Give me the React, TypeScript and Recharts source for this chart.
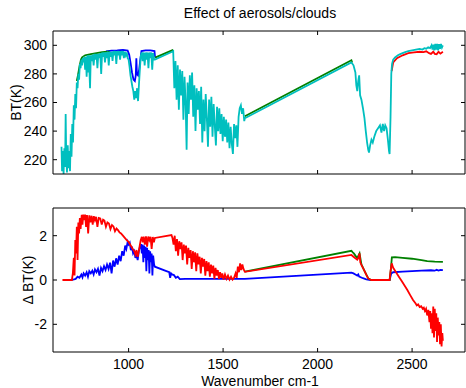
import { LineChart, Line, XAxis, YAxis } from "recharts"

const FONT = '"Liberation Sans", Arial, Helvetica, sans-serif'

const X_DOMAIN: [number, number] = [600, 2780]
const X_TICKS = [1000, 1500, 2000, 2500]
const BT_TICKS = [220, 240, 260, 280, 300]
const DBT_TICKS = [-2, 0, 2]

type Pt = [number, number | null]

// top panel: brightness temperature (K)
const btBlue: Pt[] = [
  [880, 295.8], [910, 296.3], [940, 296.5], [970, 296.8], [995, 296.3], [1003, 293.5], [1010, 288],
  [1018, 281], [1026, 276], [1033, 275], [1038, 279], [1041, 291], [1044, 280], [1050, 279],
  [1056, 283], [1062, 290], [1068, 296], [1090, 296.4], [1115, 296.4], [1137, 296], [1140, 291.5],
]

const btGreen: Pt[] = [
  [726, 275], [732, 279], [740, 285], [748, 290], [754, 291.6], [770, 293], [800, 293.8],
  [830, 294.5], [860, 295.2], [890, 295.6], [900, 295.6], [905, null],
  [1140, 291.4], [1236, 296.8], [1240, null],
  [1615, 250.4], [2179, 289.5], [2183, 288],
]

const btRed: Pt[] = [
  [2392, 282], [2400, 288], [2420, 291], [2450, 293], [2480, 294.5], [2510, 295], [2540, 295.5],
  [2560, 295.2], [2575, 295.8], [2590, 294.5], [2600, 294], [2612, 295.5], [2620, 294],
  [2630, 293.8], [2640, 295.5], [2650, 294.2], [2663, 295.5],
]

const btCyan: Pt[] = [
  [645, 229], [648, 212], [652, 226], [656, 210], [660, 228], [664, 215], [667, 252], [670, 222],
  [674, 211], [678, 230], [682, 214], [686, 226], [690, 212], [694, 238], [698, 222], [702, 245],
  [706, 232], [710, 258], [714, 248], [718, 266], [722, 256], [726, 274], [730, 270], [734, 280],
  [738, 276], [742, 287], [746, 284], [750, 290], [754, 286], [758, 291], [762, 288], [766, 292],
  [770, 283], [774, 292], [778, 278], [782, 293], [786, 281], [790, 293], [796, 270], [800, 293],
  [805, 289], [810, 293.5], [815, 286], [820, 294], [825, 290], [830, 294], [835, 284], [840, 294],
  [845, 291], [850, 294.5], [855, 280], [860, 295], [865, 292], [870, 295], [875, 288], [880, 295],
  [885, 291], [890, 295.5], [895, 286], [900, 295.5], [905, 292], [910, 295.5], [915, 289],
  [920, 296], [925, 293], [930, 296], [935, 287], [940, 296], [945, 293], [950, 296], [955, 290],
  [960, 296], [965, 293], [970, 296], [975, 291], [980, 295.5], [985, 293], [990, 295], [995, 291],
  [1000, 290], [1005, 285], [1010, 279], [1015, 275], [1020, 271], [1025, 268], [1030, 262],
  [1035, 268], [1040, 263], [1045, 270], [1050, 261], [1055, 273], [1060, 284], [1065, 293],
  [1070, 295], [1075, 289], [1080, 295], [1085, 286], [1090, 295], [1095, 290], [1100, 295],
  [1105, 284], [1110, 295], [1115, 291], [1120, 295], [1125, 283], [1130, 294.5], [1135, 290],
  [1139, 290], [1230, 295.5], [1236, 296], [1242, 270], [1248, 289], [1254, 262], [1260, 286],
  [1266, 255], [1272, 283], [1278, 265], [1284, 282], [1290, 248], [1296, 278], [1302, 258],
  [1307, 227], [1312, 274], [1318, 252], [1324, 279], [1330, 262], [1336, 281], [1342, 250],
  [1348, 272], [1354, 240], [1360, 270], [1366, 255], [1372, 268], [1378, 245], [1384, 271],
  [1390, 232], [1396, 262], [1402, 240], [1408, 266], [1414, 249], [1420, 229], [1426, 262],
  [1432, 243], [1438, 264], [1444, 236], [1450, 259], [1456, 244], [1462, 230], [1468, 257],
  [1474, 240], [1480, 256], [1486, 238], [1492, 252], [1498, 233], [1504, 250], [1510, 236],
  [1516, 248], [1522, 232], [1528, 246], [1534, 228], [1540, 243], [1546, 231], [1552, 224],
  [1558, 245], [1564, 235], [1570, 244], [1576, 229], [1582, 250], [1588, 256], [1594, 258],
  [1600, 252], [1606, 256], [1612, 247], [1615, 249], [2179, 288], [2190, 286], [2200, 281],
  [2205, 272], [2210, 268], [2215, 275], [2220, 279], [2225, 265], [2232, 262], [2240, 256],
  [2248, 249], [2255, 240], [2262, 232], [2268, 227], [2272, 225], [2278, 230], [2285, 234],
  [2292, 232], [2300, 236], [2310, 240], [2320, 242], [2330, 244], [2338, 239], [2345, 245],
  [2352, 240], [2358, 244], [2365, 242], [2372, 234], [2378, 226], [2381, 224], [2386, 250],
  [2390, 280], [2394, 287], [2400, 290], [2410, 291.5], [2425, 293], [2440, 294], [2460, 295],
  [2480, 296], [2500, 296.5], [2520, 297], [2540, 297.5], [2555, 297], [2565, 298], [2575, 297.6],
  [2585, 298.6], [2595, 298], [2603, 300], [2608, 297], [2613, 300.5], [2618, 296.5], [2623, 301],
  [2628, 297], [2633, 301], [2638, 296.5], [2643, 300.8], [2648, 297.5], [2653, 301], [2658, 298.5],
  [2663, 300],
]

// bottom panel: delta BT (K)
const dBlue: Pt[] = [
  [700, 0], [720, 0.05], [730, 0.15], [740, 0.1], [750, 0.25], [756, 0.12], [762, 0.3], [770, 0.2],
  [778, 0.35], [785, 0.15], [792, 0.4], [800, 0.3], [808, 0.42], [815, 0.25], [822, 0.48],
  [830, 0.35], [838, 0.5], [846, 0.2], [854, 0.55], [862, 0.4], [870, 0.62], [878, 0.45],
  [886, 0.7], [894, 0.5], [902, 0.78], [910, 0.3], [918, 0.88], [926, 0.6], [934, 0.98], [942, 0.7],
  [950, 1.1], [958, 0.85], [966, 1.3], [974, 1.1], [982, 1.55], [988, 1.4], [995, 1.72], [1000, 1.6],
  [1006, 1.68], [1012, 1.35], [1018, 1.5], [1024, 1.2], [1030, 1.3], [1036, 1.0], [1042, 1.15],
  [1048, 0.9], [1054, 1.3], [1060, 1.5], [1066, 1.62], [1070, 1.2], [1074, 1.6], [1078, 0.8],
  [1082, 1.55], [1086, 1.0], [1090, 1.5], [1094, 0.4], [1098, 1.45], [1102, 0.9], [1106, 1.35],
  [1110, 0.3], [1114, 1.3], [1118, 0.8], [1122, 1.2], [1126, 0.2], [1130, 1.1], [1135, 0.7],
  [1139, 0.6], [1200, 0.4], [1215, 0.35], [1220, 0.1], [1225, 0.3], [1230, 0.25], [1240, 0.22],
  [1250, 0.1], [1260, 0.15], [1271, 0.04], [1300, 0.05], [1615, 0.05], [2179, 0.33], [2190, 0.3],
  [2200, 0.25], [2210, 0.2], [2215, 0.25], [2220, 0.15], [2240, 0.08], [2258, 0.03], [2280, 0],
  [2381, 0], [2390, 0.3], [2400, 0.35], [2450, 0.38], [2500, 0.4], [2550, 0.42], [2600, 0.44],
  [2620, 0.42], [2630, 0.46], [2640, 0.43], [2650, 0.46], [2663, 0.45],
]

const dGreen: Pt[] = [
  [1615, 0.38], [2179, 1.32], [2186, 1.25], [2192, 1.2], [2200, 1.1], [2210, 1.0], [2222, 1.2],
  [2232, 0.7], [2250, 0.38], [2268, 0.07], [2284, 0], [2381, 0], [2388, 0.5], [2393, 1.02],
  [2410, 1.03], [2450, 1.0], [2500, 0.96], [2550, 0.9], [2580, 0.85], [2620, 0.83], [2663, 0.82],
]

const dRed: Pt[] = [
  [650, 0], [700, 0], [705, 0.3], [710, 1.0], [714, 0.2], [718, 1.8], [722, 1.2], [726, 2.4],
  [730, 0.9], [734, 2.6], [738, 2.1], [742, 2.8], [746, 2.3], [752, 2.94], [756, 2.5], [760, 2.95],
  [765, 2.7], [770, 2.95], [775, 2.4], [780, 2.93], [786, 2.1], [792, 2.92], [798, 2.6], [804, 2.9],
  [810, 2.5], [816, 2.88], [822, 2.7], [828, 2.85], [835, 2.4], [842, 2.8], [850, 2.78], [858, 2.5],
  [865, 2.72], [872, 2.68], [880, 2.4], [888, 2.6], [896, 2.55], [904, 2.3], [912, 2.48],
  [920, 2.42], [928, 2.2], [936, 2.32], [944, 2.25], [952, 2.15], [960, 2.1], [970, 2.0],
  [980, 1.9], [990, 1.8], [1000, 1.72], [1008, 1.6], [1015, 1.5], [1022, 1.4], [1030, 1.3],
  [1036, 1.15], [1042, 1.35], [1048, 1.05], [1052, 1.2], [1058, 1.5], [1064, 1.8], [1070, 1.95],
  [1075, 1.7], [1080, 1.96], [1086, 1.6], [1092, 1.97], [1098, 1.5], [1104, 1.96], [1110, 1.8],
  [1116, 1.95], [1122, 1.4], [1128, 1.94], [1134, 1.7], [1139, 1.9], [1227, 2.03], [1232, 1.9],
  [1238, 1.6], [1244, 2.0], [1250, 1.3], [1256, 1.85], [1262, 1.1], [1268, 1.75], [1274, 1.4],
  [1280, 1.7], [1286, 0.9], [1292, 1.6], [1298, 1.2], [1304, 1.55], [1310, 0.7], [1316, 1.45],
  [1322, 1.0], [1328, 1.35], [1334, 0.5], [1340, 1.3], [1346, 0.8], [1352, 1.25], [1358, 0.4],
  [1364, 1.2], [1370, 0.7], [1376, 1.05], [1382, 0.3], [1388, 1.0], [1394, 0.6], [1400, 0.95],
  [1406, 0.2], [1412, 0.85], [1418, 0.4], [1424, 0.8], [1430, 0.15], [1436, 0.7], [1442, 0.3],
  [1448, 0.65], [1454, 0.05], [1460, 0.55], [1466, 0.2], [1472, 0.45], [1478, 0.05], [1484, 0.35],
  [1490, 0.1], [1496, 0.3], [1502, 0.02], [1510, 0.25], [1518, 0.05], [1526, 0.2], [1534, 0.02],
  [1542, 0.15], [1550, 0.02], [1558, 0.1], [1566, 0.3], [1572, 0.1], [1578, 0.6], [1584, 0.35],
  [1590, 0.75], [1596, 0.45], [1602, 0.7], [1608, 0.5], [1615, 0.37], [2179, 1.13], [2190, 1.05],
  [2200, 0.98], [2210, 0.92], [2216, 1.0], [2222, 1.2], [2226, 0.8], [2232, 0.68], [2240, 0.55],
  [2250, 0.38], [2258, 0.23], [2268, 0.07], [2284, 0], [2381, 0], [2386, 0.4], [2392, 0.75],
  [2400, 0.55], [2415, 0.35], [2430, 0.15], [2445, -0.05], [2460, -0.25], [2475, -0.45],
  [2490, -0.68], [2505, -0.9], [2518, -1.05], [2525, -1.15], [2532, -1.1], [2540, -1.22],
  [2548, -1.18], [2556, -1.3], [2562, -1.25], [2568, -1.4], [2574, -1.3], [2580, -1.6],
  [2586, -1.35], [2592, -1.9], [2596, -1.4], [2600, -2.2], [2604, -1.5], [2608, -2.4], [2612, -1.2],
  [2616, -2.6], [2620, -1.3], [2624, -2.3], [2628, -1.5], [2632, -2.8], [2636, -1.7], [2640, -2.5],
  [2644, -1.9], [2648, -2.9], [2652, -2.0], [2656, -3.0], [2660, -2.4], [2663, -2.75],
]

const rows = (pts: Pt[]) => pts.map(([wn, v]) => ({ wn, v }))

function XTick(props: any) {
  const { x, y, payload, showLabel, gap } = props
  const axisY = y - gap
  return (
    <g>
      <line x1={x} x2={x} y1={axisY} y2={axisY - 4} stroke="#000" />
      {showLabel && (
        <text x={x} y={y} dy="0.71em" textAnchor="middle" fontSize={14} fontFamily={FONT} fill="#000">
          {payload.value}
        </text>
      )}
    </g>
  )
}

function YTick(props: any) {
  const { x, y, payload, gap } = props
  const axisX = x + gap
  return (
    <g>
      <line x1={axisX} x2={axisX + 4} y1={y} y2={y} stroke="#000" />
      <text x={x} y={y} dy="0.355em" textAnchor="end" fontSize={14} fontFamily={FONT} fill="#000">
        {payload.value}
      </text>
    </g>
  )
}

function Panel({ height, top, bottom, yDomain, yTicks, series, showXLabels }: any) {
  return (
    <LineChart width={466} height={height} margin={{ top, right: 1, bottom, left: 8 }}>
      <XAxis
        type="number" dataKey="wn" domain={X_DOMAIN} ticks={X_TICKS} interval={0}
        height={25} tickSize={0} tickMargin={7} tickLine={false} stroke="#000"
        tick={<XTick showLabel={showXLabels} gap={7} />} allowDataOverflow
      />
      <XAxis
        xAxisId="top" orientation="top" mirror type="number" dataKey="wn" domain={X_DOMAIN}
        ticks={X_TICKS} interval={0} tickSize={4} tickFormatter={() => ""} stroke="#000" allowDataOverflow
      />
      <YAxis
        type="number" domain={yDomain} ticks={yTicks} interval={0} width={45}
        tickSize={0} tickMargin={6} tickLine={false} stroke="#000"
        tick={<YTick gap={6} />} allowDataOverflow
      />
      <YAxis
        yAxisId="right" orientation="right" mirror type="number" domain={yDomain}
        ticks={yTicks} interval={0} tickSize={4} tickFormatter={() => ""} stroke="#000" allowDataOverflow
      />
      {series.map((s: any) => (
        <Line
          key={s.name} data={rows(s.pts)} dataKey="v" name={s.name} stroke={s.color}
          strokeWidth={1.8} dot={false} activeDot={false} isAnimationActive={false}
        />
      ))}
    </LineChart>
  )
}

export default function App() {
  return (
    <div style={{ position: "fixed", left: 0, top: 0, width: 466, height: 388, background: "#fff", fontFamily: FONT }}>
      <div style={{ position: "absolute", left: 0, top: 0 }}>
        <Panel
          height={200} top={31} bottom={1} yDomain={[210, 310]} yTicks={BT_TICKS} showXLabels={false}
          series={[
            { name: "blue", color: "#0000ff", pts: btBlue },
            { name: "green", color: "#008000", pts: btGreen },
            { name: "red", color: "#ff0000", pts: btRed },
            { name: "cyan", color: "#00bfbf", pts: btCyan },
          ]}
        />
      </div>
      <div style={{ position: "absolute", left: 0, top: 190 }}>
        <Panel
          height={198} top={18} bottom={11} yDomain={[-3.25, 3.25]} yTicks={DBT_TICKS} showXLabels
          series={[
            { name: "blue", color: "#0000ff", pts: dBlue },
            { name: "green", color: "#008000", pts: dGreen },
            { name: "red", color: "#ff0000", pts: dRed },
          ]}
        />
      </div>
      <svg width={466} height={388} style={{ position: "absolute", left: 0, top: 0, pointerEvents: "none" }}>
        <text x={260} y={18} textAnchor="middle" fontSize={14} fontFamily={FONT} fill="#000">
          Effect of aerosols/clouds
        </text>
        <text transform="translate(16,102.5) rotate(-90)" textAnchor="middle" dy="0.35em" fontSize={14} fontFamily={FONT} fill="#000">
          BT(K)
        </text>
        <text transform="translate(28,280) rotate(-90)" textAnchor="middle" dy="0.35em" fontSize={14} fontFamily={FONT} fill="#000">
          Δ BT(K)
        </text>
        <text x={260} y={385.5} textAnchor="middle" fontSize={14} fontFamily={FONT} fill="#000">
          Wavenumber cm-1
        </text>
      </svg>
    </div>
  )
}
